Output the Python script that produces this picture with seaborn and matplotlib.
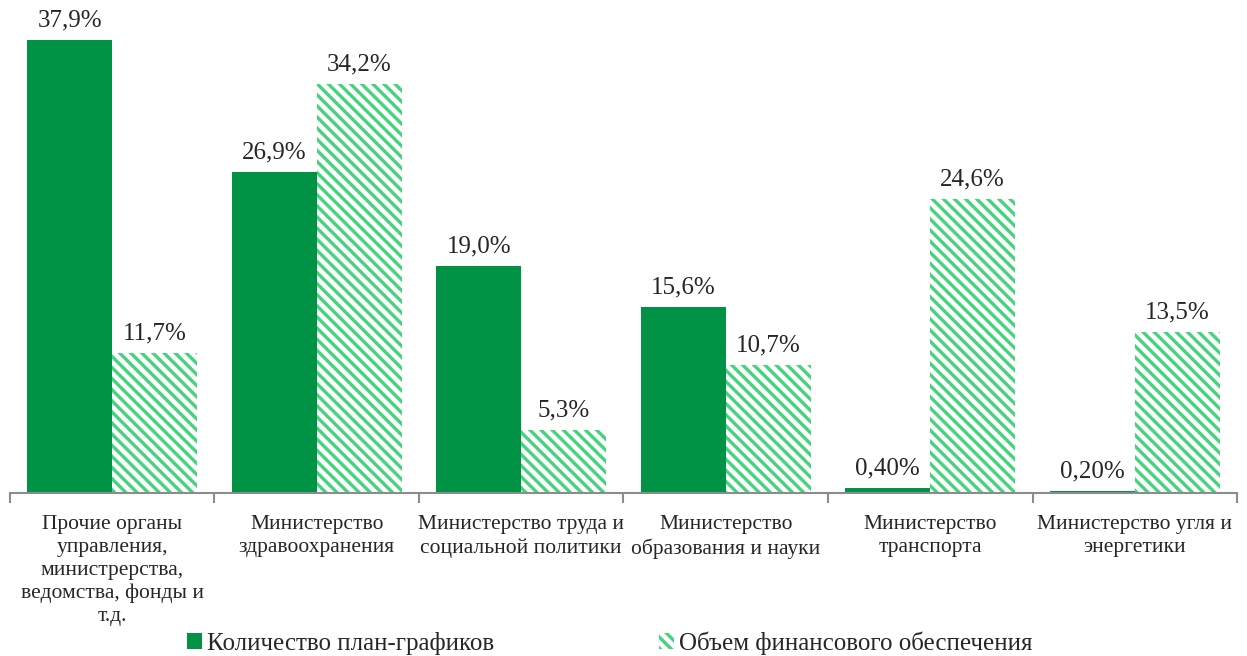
import matplotlib.pyplot as plt
import matplotlib.patches as mpatches
import seaborn as sns
import pandas as pd

# Data
categories = [
    "Прочие органы\nуправления,\nминистрерства,\nведомства, фонды и\nт.д.",
    "Министерство\nздравоохранения",
    "Министерство труда и\nсоциальной политики",
    "Министерство\nобразования и науки",
    "Министерство\nтранспорта",
    "Министерство угля и\nэнергетики",
]
series = ["Количество план-графиков", "Объем финансового обеспечения"]
plans = [37.9, 26.9, 19.0, 15.6, 0.4, 0.2]
finance = [11.7, 34.2, 5.3, 10.7, 24.6, 13.5]
plans_labels = ["37,9%", "26,9%", "19,0%", "15,6%", "0,40%", "0,20%"]
finance_labels = ["11,7%", "34,2%", "5,3%", "10,7%", "24,6%", "13,5%"]

df = pd.DataFrame({
    "Category": categories * 2,
    "Series": [series[0]] * 6 + [series[1]] * 6,
    "Value": plans + finance,
})

dark_green = "#009245"
light_green = "#45d37c"

sns.set_style("white")
plt.rcParams["font.family"] = ["Liberation Serif", "DejaVu Serif"]
plt.rcParams["hatch.linewidth"] = 2.4

fig = plt.figure(figsize=(12.47, 6.56), dpi=100)
ax = fig.add_axes([0.008, 0.2485, 0.984, 0.7287])

sns.barplot(data=df, x="Category", y="Value", hue="Series",
            palette=[dark_green, light_green], width=0.83, saturation=1,
            legend=False, ax=ax)

for p in ax.containers[0]:
    p.set_linewidth(0)
for p in ax.containers[1]:
    p.set_facecolor("white")
    p.set_edgecolor(light_green)
    p.set_hatch("\\\\\\")
    p.set_linewidth(0)

ax.bar_label(ax.containers[0], labels=plans_labels, padding=6, fontsize=18)
ax.bar_label(ax.containers[1], labels=finance_labels, padding=6, fontsize=18)

ax.set_ylim(0, 40)
ax.set_xlim(-0.5, 5.5)
ax.set_yticks([])
ax.set_xlabel("")
ax.set_ylabel("")
for s in ["top", "right", "left"]:
    ax.spines[s].set_visible(False)
ax.spines["bottom"].set_color("#8c8c8c")
ax.spines["bottom"].set_linewidth(1.5)

ax.set_xticks(range(6))
ax.set_xticklabels(categories, fontsize=15.5, linespacing=1.27, va="top")
ax.tick_params(axis="x", which="major", length=0, pad=16)
ax.set_xticks([i - 0.5 for i in range(7)], minor=True)
ax.tick_params(axis="x", which="minor", bottom=True, direction="out",
               length=7, width=1.5, color="#8c8c8c")

handles = [
    mpatches.Patch(facecolor=dark_green, edgecolor="none"),
    mpatches.Patch(facecolor="white", edgecolor=light_green, hatch="\\\\\\", linewidth=0),
]
fig.legend(handles, series, loc="center", bbox_to_anchor=(0.489, 0.02), ncol=2,
           frameon=False, fontsize=18, handlelength=0.6, handleheight=0.6,
           handletextpad=0.2, columnspacing=6.6)

fig.savefig("out.png", dpi=100)
